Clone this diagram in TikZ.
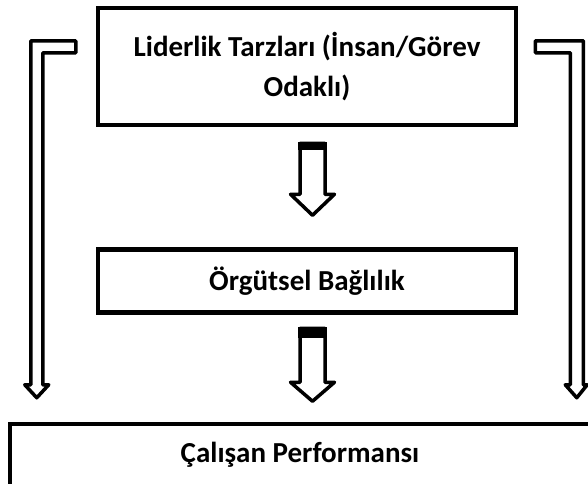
\documentclass[tikz,border=0pt]{standalone}
\usepackage{fontspec}
\setmainfont{Carlito}
\usepackage{tikz}
\usetikzlibrary{positioning, calc}
\tikzstyle{box}=[draw=black,line width=4.5pt,align=center,inner sep=0pt,font=\bfseries\fontsize{29}{40}\selectfont]
\tikzstyle{hollow}=[draw=black,fill=white,line width=3.5pt,line join=round]

% hollow down arrow with a black cap: top, shaft length, head length, cap height
\newcommand{\blockdown}[4]{%
    \draw[hollow] (#1) ++(-12.5,0) -- ++(0,#2) -- ++(-9.5,0) -- ++(22,#3)
        -- ++(22,-#3) -- ++(-9.5,0) -- ++(0,-#2) -- cycle;
    \fill (#1) ++(-14.5,-1.5) rectangle ++(29,#4);
}

\begin{document}
\begin{tikzpicture}[x=1pt,y=-1pt]
    \useasboundingbox (0,0) rectangle (588,483);
    \clip (0,0) rectangle (588,483);

    \node[box,minimum width=418pt,minimum height=117pt] (lead) at (307,66.5) {Liderlik Tarzları (İnsan/Görev\\Odaklı)};
    \node[box,minimum width=418pt,minimum height=63pt] (comm) at (307,281) {Örgütsel Bağlılık};
    \node[box,minimum width=580pt,minimum height=62pt] (perf) at (300,455) {Çalışan Performansı};

    \coordinate (d1) at ($(lead.south)+(5.5,16)$);
    \coordinate (d2) at ($(comm.south)+(5.5,13.5)$);
    \coordinate (lb) at ($(lead.north west)+(-65,35)$);
    \coordinate (rb) at ($(lead.north east)+(17,35)$);

    \blockdown{d1}{51}{21}{8}
    \blockdown{d2}{54}{19}{11}

    \draw[hollow] (lb) -- ++(45,0) -- ++(0,12) -- ++(-33,0) -- ++(0,332) -- ++(6,0)
        -- ++(-12,13) -- ++(-12,-13) -- ++(6,0) -- cycle;
    \draw[hollow] (rb) -- ++(48,0) -- ++(0,344) -- ++(4,0) -- ++(-10.5,13)
        -- ++(-11.5,-13) -- ++(5,0) -- ++(0,-332) -- ++(-35,0) -- cycle;
\end{tikzpicture}
\end{document}
